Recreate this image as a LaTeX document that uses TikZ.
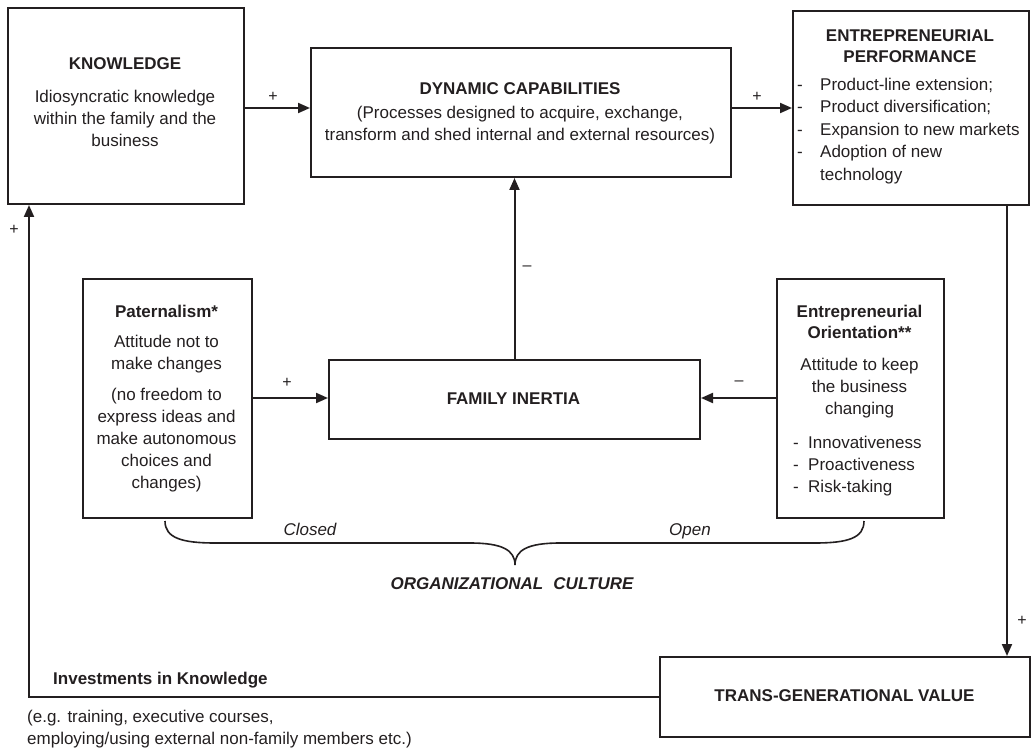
\documentclass[tikz,border=0pt]{standalone}
\usepackage{fontspec}
\setmainfont{Liberation Sans}
\usetikzlibrary{arrows.meta}
\definecolor{ink}{RGB}{35,31,32}
\begin{document}
\begin{tikzpicture}[x=1pt,y=-1pt,
  box/.style={draw=ink, line width=2pt, inner sep=0pt, anchor=north west},
  txt/.style={inner sep=0pt, text=ink, font=\fontsize{17}{22}\selectfont, align=center, anchor=north},
  ttl/.style={inner sep=0pt, text=ink, font=\fontsize{17}{21}\selectfont\bfseries, align=center, anchor=north},
  lst/.style={inner sep=0pt, text=ink, align=left, anchor=north west},
  lbl/.style={inner sep=0pt, text=ink, font=\fontsize{16}{18}\selectfont},
  arr/.style={draw=ink, line width=2pt, -{Triangle[length=12pt,width=10pt]}},
]
\useasboundingbox (0,0) rectangle (1031,751);

% boxes
\node[box, minimum width=236pt, minimum height=196pt] (know) at (7,7) {};
\node[box, minimum width=420pt, minimum height=129pt] (dc) at (310,47) {};
\node[box, minimum width=236pt, minimum height=194pt] (ep) at (792,10) {};
\node[box, minimum width=169pt, minimum height=239pt] (pat) at (82,278) {};
\node[box, minimum width=371pt, minimum height=79pt] (fi) at (328,359) {};
\node[box, minimum width=167pt, minimum height=239pt] (eo) at (776,278) {};
\node[box, minimum width=370pt, minimum height=80pt] (tgv) at (659,656) {};

% texts
\node[ttl] (knowT) at (125,57.7) {KNOWLEDGE};
\node[txt] (knowB) at (125,89.7) {Idiosyncratic knowledge\\within the family and the\\business};
\node[ttl] (dcT) at (520,82.7) {DYNAMIC CAPABILITIES};
\node[txt] (dcB) at (520,105.7) {(Processes designed to acquire, exchange,\\transform and shed internal and external resources)};
\node[ttl] (epT) at (910,29.7) {ENTREPRENEURIAL\\PERFORMANCE};
\node[lst, font=\fontsize{17}{22.5}\selectfont] (epL) at (797,77.7)
  {\makebox[23pt][l]{-}Product-line extension;\\
   \makebox[23pt][l]{-}Product diversification;\\
   \makebox[23pt][l]{-}Expansion to new markets\\
   \makebox[23pt][l]{-}Adoption of new\\
   \hspace*{23pt}technology};
\node[ttl] (patT) at (166.5,304.7) {Paternalism*};
\node[txt] (patB1) at (166.5,334.7) {Attitude not to\\make changes};
\node[txt] (patB2) at (166.5,387.7) {(no freedom to\\express ideas and\\make autonomous\\choices and\\changes)};
\node[ttl] (eoT) at (859.5,304.7) {Entrepreneurial\\Orientation**};
\node[txt] (eoB) at (859.5,357.7) {Attitude to keep\\the business\\changing};
\node[lst, font=\fontsize{17}{22}\selectfont] (eoL) at (793,435.7)
  {\makebox[15pt][l]{-}Innovativeness\\
   \makebox[15pt][l]{-}Proactiveness\\
   \makebox[15pt][l]{-}Risk-taking};
\node[inner sep=0pt, text=ink, font=\fontsize{17}{21}\selectfont\bfseries] (fiT) at (513.5,398.5) {FAMILY INERTIA};
\node[inner sep=0pt, text=ink, font=\fontsize{17}{21}\selectfont\bfseries] (tgvT) at (844.5,696) {TRANS-GENERATIONAL VALUE};

% arrows
\coordinate (y108) at (0,108);
\coordinate (y398) at (0,398);
\coordinate (rx) at (1007,0);
\coordinate (lx) at (29,0);
\draw[arr] (know.east |- y108) -- (dc.west |- y108);
\draw[arr] (dc.east |- y108) -- (ep.west |- y108);
\draw[arr] (pat.east |- y398) -- (fi.west |- y398);
\draw[arr] (eo.west |- y398) -- (fi.east |- y398);
\draw[arr] (fi.north) -- (fi.north |- dc.south);
\draw[arr] (rx |- ep.south) -- (rx |- tgv.north);
\draw[arr] (tgv.west) -| (lx |- know.south);

% signs
\node[lbl] (p1) at (273,97) {+};
\node[lbl] (p2) at (757,97) {+};
\node[lbl] (m1) at (527,268) {–};
\node[lbl] (p3) at (287,383) {+};
\node[lbl] (m2) at (739,383) {–};
\node[lbl] (p4) at (1022,621) {+};
\node[lbl] (p5) at (14,230) {+};

% brace
\draw[ink, line width=1.6pt] (165,521) .. controls (165,538) and (182,543) .. (215,543)
  -- (470,543) .. controls (502,543) and (515,550) .. (515,565)
  .. controls (515,550) and (528,543) .. (560,543)
  -- (815,543) .. controls (848,543) and (864,538) .. (864,521);
\node[inner sep=0pt, text=ink, font=\fontsize{17}{21}\selectfont\itshape, anchor=base] (closed) at (310,535) {Closed};
\node[inner sep=0pt, text=ink, font=\fontsize{17}{21}\selectfont\itshape, anchor=base] (open) at (690,535) {Open};
\node[inner sep=0pt, text=ink, font=\fontsize{17}{21}\selectfont\bfseries\itshape, anchor=base] (org) at (512,589) {ORGANIZATIONAL\hspace{0.6em}CULTURE};

% bottom texts
\node[inner sep=0pt, text=ink, font=\fontsize{17}{21}\selectfont\bfseries, anchor=base west] (inv) at (53,684) {Investments in Knowledge};
\node[lst, font=\fontsize{17}{22}\selectfont] (eg) at (27,709.7) {(e.g. training, executive courses,\\employing/using external non-family members etc.)};
\end{tikzpicture}
\end{document}
